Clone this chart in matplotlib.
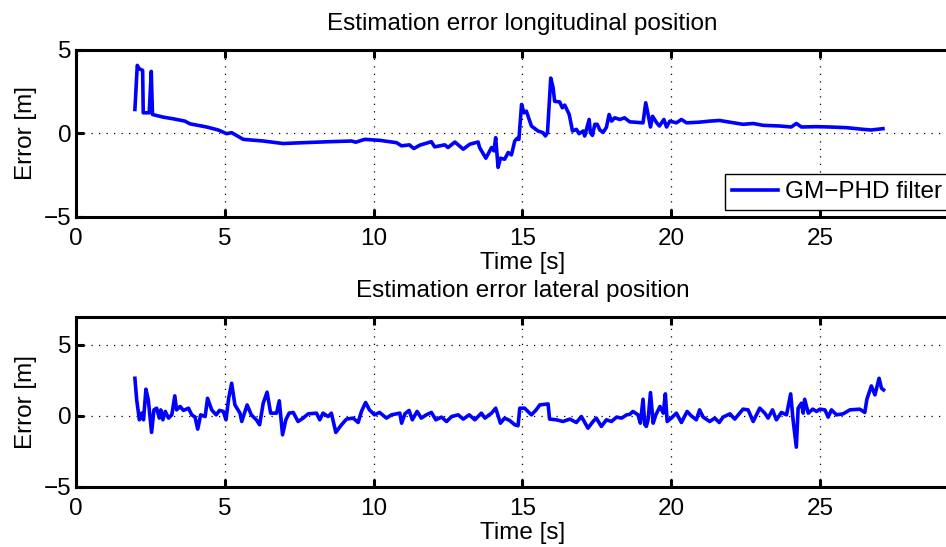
import matplotlib
matplotlib.use("Agg")
import matplotlib.pyplot as plt

# Longitudinal position error (top panel)
top_t = [1.98, 2.06, 2.12, 2.24, 2.26, 2.46, 2.53, 2.57, 2.93, 3.27,
         3.66, 3.83, 4.39, 4.78, 5.06, 5.23, 5.62, 6.29, 6.96, 7.63,
         8.53, 9.26, 9.40, 9.70, 10.21, 10.77, 10.94, 11.20, 11.35, 11.55,
         11.94, 12.05, 12.39, 12.50, 12.73, 13.01, 13.23, 13.51, 13.56, 13.77,
         13.96, 14.04, 14.10, 14.18, 14.26, 14.40, 14.52, 14.63, 14.74, 14.82,
         14.88, 14.97, 15.05, 15.13, 15.30, 15.52, 15.69, 15.77, 15.84, 15.95,
         16.03, 16.08, 16.25, 16.34, 16.42, 16.57, 16.68, 16.81, 16.90, 17.04,
         17.09, 17.24, 17.28, 17.35, 17.43, 17.51, 17.60, 17.71, 17.82, 17.91,
         17.99, 18.10, 18.27, 18.43, 18.60, 19.05, 19.14, 19.22, 19.30, 19.37,
         19.51, 19.60, 19.75, 19.84, 19.95, 20.17, 20.34, 20.51, 20.95, 21.28,
         21.62, 21.96, 22.41, 22.75, 23.08, 23.64, 24.03, 24.20, 24.37, 24.87,
         25.32, 25.88, 26.44, 26.72, 27.11]
top_err = [1.41, 4.05, 3.85, 3.75, 1.21, 1.21, 3.69, 1.11, 0.95, 0.85,
           0.71, 0.55, 0.36, 0.18, -0.04, 0.02, -0.38, -0.48, -0.63, -0.58,
           -0.52, -0.48, -0.55, -0.38, -0.44, -0.58, -0.77, -0.71, -0.93, -0.73,
           -0.52, -0.83, -0.71, -0.87, -0.54, -0.97, -0.67, -0.54, -0.87, -1.51,
           -0.87, -1.07, -0.28, -2.06, -1.51, -1.57, -1.17, -1.31, -0.48, -0.32,
           -0.38, 1.71, 1.21, 1.31, 0.42, 0.12, 0.02, -0.18, 0.02, 3.29,
           2.70, 1.90, 1.86, 1.51, 1.67, 1.11, 0.12, 0.22, -0.04, 0.12,
           -0.18, 0.81, 0.02, -0.14, 0.52, 0.52, 0.18, 0.04, 0.34, 1.11,
           0.71, 0.91, 0.81, 0.91, 0.67, 0.61, 1.81, 1.11, 0.36, 1.00,
           0.61, 0.42, 0.81, 0.36, 0.71, 0.61, 0.81, 0.61, 0.65, 0.71,
           0.75, 0.65, 0.52, 0.57, 0.46, 0.42, 0.36, 0.57, 0.36, 0.38,
           0.36, 0.32, 0.22, 0.18, 0.26]

# Lateral position error (bottom panel)
bot_t = [1.98, 2.04, 2.13, 2.21, 2.27, 2.35, 2.43, 2.54, 2.62, 2.71,
         2.80, 2.85, 2.92, 3.00, 3.11, 3.22, 3.32, 3.38, 3.50, 3.61,
         3.78, 3.89, 4.00, 4.09, 4.19, 4.34, 4.42, 4.56, 4.71, 4.82,
         4.95, 5.04, 5.13, 5.23, 5.34, 5.51, 5.57, 5.75, 5.89, 6.06,
         6.17, 6.29, 6.42, 6.54, 6.74, 6.83, 6.94, 7.05, 7.16, 7.30,
         7.46, 7.63, 7.80, 8.08, 8.19, 8.30, 8.47, 8.58, 8.73, 8.92,
         9.09, 9.31, 9.48, 9.59, 9.73, 9.86, 10.03, 10.20, 10.43, 10.60,
         10.88, 10.94, 11.05, 11.19, 11.30, 11.46, 11.60, 11.77, 11.94, 12.09,
         12.28, 12.45, 12.62, 12.84, 13.01, 13.21, 13.40, 13.62, 13.74, 13.96,
         14.10, 14.26, 14.40, 14.57, 14.74, 14.85, 14.91, 15.07, 15.30, 15.46,
         15.58, 15.86, 15.91, 16.14, 16.36, 16.59, 16.81, 16.98, 17.20, 17.37,
         17.48, 17.65, 17.82, 17.99, 18.16, 18.33, 18.50, 18.60, 18.71, 18.88,
         18.96, 19.05, 19.11, 19.16, 19.22, 19.30, 19.39, 19.48, 19.62, 19.73,
         19.80, 19.86, 20.00, 20.17, 20.34, 20.53, 20.67, 20.84, 20.95, 21.07,
         21.29, 21.46, 21.61, 21.74, 21.97, 22.13, 22.41, 22.58, 22.75, 22.97,
         23.14, 23.25, 23.40, 23.53, 23.70, 23.87, 24.01, 24.09, 24.20, 24.26,
         24.37, 24.43, 24.48, 24.60, 24.75, 24.88, 24.99, 25.16, 25.27, 25.38,
         25.55, 25.77, 26.00, 26.33, 26.50, 26.57, 26.72, 26.84, 26.98, 27.06,
         27.13]
bot_err = [2.65, 1.13, -0.28, 0.19, -0.28, 1.88, 1.13, -1.17, 0.42, 0.54,
           -0.16, 0.42, -0.28, 0.31, -0.16, 0.07, 1.41, 0.42, 0.66, 0.38,
           0.54, 0.07, -0.09, -0.94, 0.07, -0.05, 1.24, 0.42, 0.07, 0.38,
           0.31, -0.28, 1.24, 2.30, 0.77, 0.19, -0.40, 0.77, 0.07, -0.28,
           -0.63, 0.89, 1.67, 0.19, 0.19, 1.06, -1.34, -0.28, 0.19, 0.24,
           -0.40, -0.16, 0.14, 0.19, -0.28, 0.19, -0.05, 0.19, -1.17, -0.63,
           -0.23, -0.16, -0.47, 0.31, 0.94, 0.42, 0.07, 0.24, -0.16, 0.07,
           0.19, -0.52, 0.14, 0.38, -0.28, 0.31, -0.16, 0.07, 0.24, -0.28,
           -0.09, -0.40, -0.05, 0.07, -0.23, 0.07, -0.28, 0.19, -0.16, 0.19,
           0.54, -0.52, -0.16, -0.33, -0.63, -0.70, 0.54, 0.54, 0.07, 0.42,
           0.77, 0.84, -0.23, -0.28, -0.40, -0.23, -0.47, -0.05, -0.87, -0.40,
           -0.16, -0.75, -0.28, -0.40, -0.09, -0.16, 0.07, 0.10, 0.31, 0.07,
           -0.52, 1.17, -0.63, -0.75, -0.28, 1.64, -0.52, 0.07, 0.66, 0.19,
           1.55, -0.40, -0.16, 0.19, -0.47, 0.31, 0.00, -0.28, 0.42, -0.09,
           -0.40, -0.16, -0.47, -0.09, 0.14, -0.23, 0.47, 0.42, -0.40, 0.54,
           0.19, -0.16, 0.42, -0.28, 0.24, 0.07, 1.55, -0.28, -2.21, 0.54,
           0.89, 0.19, 1.17, 0.19, 0.47, 0.31, 0.47, 0.42, -0.09, 0.42,
           0.07, 0.14, 0.42, 0.47, 0.24, 1.17, 2.11, 1.48, 2.65, 1.95,
           1.83]

x_ticks = [0, 5, 10, 15, 20, 25]
y_ticks = [-5, 0, 5]

plt.rcParams['font.family'] = ['Liberation Sans', 'DejaVu Sans']
plt.rcParams['font.size'] = 17.5

fig = plt.figure(figsize=(9.46, 5.47), dpi=100)
# axes run past the right edge, as in the cropped original
ax1 = fig.add_axes([0.0803, 0.6042, 0.944, 0.3053])
ax2 = fig.add_axes([0.0803, 0.1103, 0.944, 0.3108])

def style(ax, ylim, title):
    ax.set_xlim(0, 30)
    ax.set_ylim(*ylim)
    ax.set_xticks(x_ticks)
    ax.set_yticks(y_ticks)
    ax.grid(True, color='black', linestyle=(0, (1, 5)), linewidth=0.9)
    for s in ax.spines.values():
        s.set_linewidth(2.2)
    ax.tick_params(direction='in', length=6, width=2.2, top=True, right=True,
                   labelsize=17.5)
    ax.tick_params(axis='x', pad=8.5)
    ax.tick_params(axis='y', pad=3)
    ax.set_title(title, fontsize=17.5, pad=14)
    ax.set_xlabel('Time [s]', labelpad=1)
    ax.set_ylabel('Error [m]', labelpad=5)

ax1.plot(top_t, top_err, color='#0000ff', linewidth=2.6, label='GM\u2212PHD filter')
style(ax1, (-5, 5), 'Estimation error longitudinal position')
leg = ax1.legend(loc='lower left', bbox_to_anchor=(0.7268, 0.036), borderaxespad=0,
                 fancybox=False, edgecolor='black', framealpha=1, fontsize=17.5,
                 handlelength=1.9, handletextpad=0.25, borderpad=0.3)
leg.get_frame().set_linewidth(1.0)

ax2.plot(bot_t, bot_err, color='#0000ff', linewidth=2.6)
style(ax2, (-5, 7), 'Estimation error lateral position')

fig.savefig('out.png', dpi=100)
